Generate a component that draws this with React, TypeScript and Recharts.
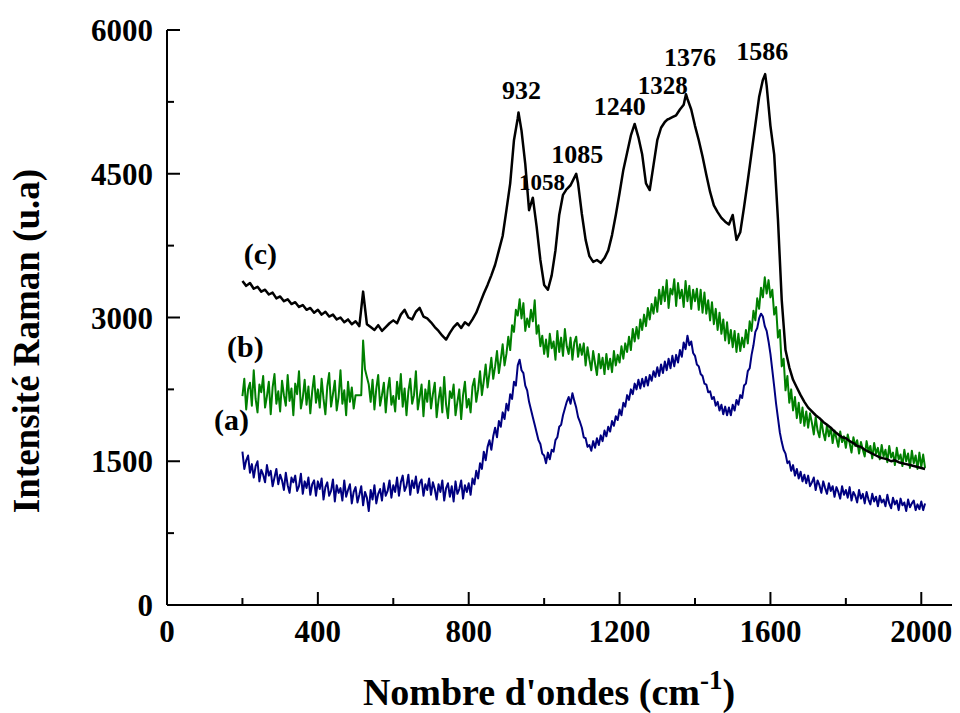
import React from 'react';
import { LineChart, Line, XAxis, YAxis, ReferenceDot, Label } from 'recharts';

// All spectra start at 200 cm-1; (a) and (b) are sampled every 5 cm-1, (c) every 10 cm-1
const GRID_START = 200;
const STEP_FINE = 5;
const STEP_COARSE = 10;

// (a) blue spectrum, 5 cm-1 steps
const SERIES_A = [
  1600, 1420, 1510, 1560, 1380, 1470, 1330, 1450, 1500, 1290, 1410, 1360, 1280, 1460, 1350, 1400, 1240, 1330, 1420, 1260,
  1360, 1300, 1200, 1380, 1250, 1170, 1330, 1280, 1350, 1190, 1240, 1370, 1160, 1290, 1220, 1330, 1150, 1260, 1300, 1140,
  1290, 1210, 1320, 1100, 1230, 1280, 1140, 1190, 1310, 1080, 1250, 1170, 1220, 1090, 1300, 1130, 1200, 1260, 1060, 1180,
  1230, 1070, 1150, 1240, 1040, 1180, 1120, 980, 1200, 1100, 1250, 1060, 1160, 1210, 1090, 1270, 1140, 1190, 1300, 1120,
  1250, 1180, 1330, 1140, 1280, 1350, 1190, 1240, 1360, 1150, 1300, 1220, 1340, 1170, 1270, 1310, 1140, 1260, 1200, 1320,
  1150, 1280, 1210, 1100, 1260, 1180, 1300, 1090, 1220, 1270, 1130, 1240, 1080, 1290, 1160, 1210, 1300, 1110, 1250, 1180,
  1270, 1150, 1320, 1260, 1400, 1320, 1480, 1420, 1600, 1510, 1650, 1720, 1620, 1760, 1850, 1750, 1920, 1860, 2010, 1940,
  2100, 2030, 2200, 2150, 2330, 2290, 2500, 2560, 2450, 2420, 2290, 2240, 2120, 2040, 1960, 1880, 1800, 1720, 1680, 1580,
  1560, 1480, 1590, 1520, 1620, 1600, 1720, 1750, 1860, 1880, 1980, 2050, 2120, 2170, 2100, 2210, 2130, 2060, 1960, 1910,
  1850, 1750, 1740, 1650, 1670, 1610, 1710, 1640, 1740, 1670, 1770, 1710, 1820, 1760, 1860, 1810, 1920, 1870, 1970, 1930,
  2040, 1980, 2110, 2070, 2190, 2140, 2250, 2200, 2310, 2250, 2350, 2260, 2360, 2280, 2380, 2290, 2400, 2340, 2440, 2380,
  2480, 2390, 2510, 2420, 2540, 2450, 2570, 2470, 2600, 2490, 2610, 2530, 2660, 2590, 2740, 2670, 2810, 2710, 2750, 2630,
  2600, 2510, 2490, 2410, 2390, 2310, 2300, 2220, 2230, 2150, 2170, 2080, 2120, 2030, 2090, 1990, 2070, 1980, 2060, 1980,
  2090, 2030, 2140, 2090, 2190, 2160, 2290, 2310, 2440, 2470, 2610, 2710, 2850, 2890, 2990, 3040, 3010, 2910, 2860, 2750,
  2620, 2450, 2280, 2100, 1950, 1800, 1700, 1620, 1580, 1480, 1500, 1400, 1460, 1350, 1420, 1320, 1390, 1290, 1360, 1270,
  1350, 1240, 1280, 1330, 1200, 1300, 1250, 1170, 1290, 1220, 1160, 1270, 1190, 1240, 1130, 1230, 1180, 1110, 1240, 1150,
  1200, 1120, 1230, 1090, 1180, 1140, 1070, 1200, 1110, 1160, 1060, 1180, 1100, 1050, 1160, 1080, 1130, 1030, 1140, 1070,
  1100, 1030, 1150, 1060, 1010, 1120, 1050, 1090, 990, 1110, 1040, 1070, 980, 1100, 1020, 1060, 1090, 990, 1050, 1000,
  1080, 990, 1060,
];

// (b) green spectrum, 5 cm-1 steps
const SERIES_B = [
  2180, 2360, 2040, 2250, 2320, 2080, 2450, 2150, 2010, 2300, 2220, 2390, 2060, 2180, 2330, 1990, 2270, 2410, 2100, 2230,
  2020, 2340, 2190, 2080, 2400, 2130, 2260, 1980, 2310, 2200, 2440, 2050, 2160, 2350, 2090, 2280, 2000, 2230, 2390, 2110,
  2250, 2060, 2360, 2150, 1990, 2280, 2420, 2070, 2200, 2340, 2030, 2170, 2450, 2100, 2240, 1980, 2330, 2120, 2270, 2050,
  2190, 2190, 2190, 2190, 2760, 2460, 2380, 2300, 2120, 2350, 2040, 2260, 2400, 2080, 2190, 2320, 2010, 2240, 2370, 2090,
  2180, 2020, 2330, 2150, 2410, 2070, 2260, 1980, 2230, 2360, 2100, 2190, 2440, 2040, 2170, 2300, 1970, 2250, 2120, 2340,
  2050, 2200, 2320, 1960, 2140, 2270, 2010, 2380, 2090, 1950, 2230, 2160, 2300, 1980, 2120, 2250, 1940, 2190, 2330, 2060,
  2150, 2010, 2280, 2360, 2120, 2250, 2440, 2190, 2340, 2510, 2270, 2420, 2580, 2360, 2490, 2650, 2420, 2560, 2720, 2500,
  2620, 2800, 2660, 2920, 2850, 3080, 3020, 3190, 2990, 3150, 2860, 2990, 2900, 3080, 2960, 3180, 2830, 2920, 2700, 2810,
  2620, 2770, 2590, 2830, 2680, 2750, 2560, 2860, 2640, 2790, 2600, 2880, 2700, 2620, 2790, 2560, 2740, 2800, 2590, 2720,
  2610, 2730, 2500, 2690, 2560, 2450, 2650, 2520, 2400, 2620, 2470, 2580, 2410, 2620, 2460, 2570, 2430, 2650, 2500, 2610,
  2530, 2700, 2570, 2730, 2640, 2800, 2660, 2880, 2750, 2900, 2780, 2980, 2870, 3030, 2910, 3100, 2980, 3140, 3040, 3210,
  3060, 3290, 3140, 3320, 3170, 3390, 3100, 3300, 3240, 3400, 3120, 3360, 3200, 3290, 3110, 3380, 3170, 3330, 3090, 3290,
  3170, 3300, 3080, 3290, 3050, 3260, 3040, 3180, 2970, 3160, 2930, 3090, 2870, 3050, 2830, 2980, 2760, 2950, 2730, 2870,
  2690, 2860, 2640, 2830, 2650, 2790, 2690, 2870, 2730, 2960, 2860, 3070, 2970, 3200, 3090, 3310, 3210, 3420, 3250, 3390,
  3210, 3290, 3030, 3110, 2790, 2870, 2490, 2570, 2240, 2390, 2110, 2250, 2030, 2170, 1950, 2110, 1900, 2060, 1870, 2020,
  1850, 2000, 1900, 1780, 1960, 1820, 1750, 1930, 1800, 1720, 1880, 1760, 1850, 1690, 1820, 1740, 1650, 1810, 1700, 1760,
  1640, 1780, 1690, 1590, 1750, 1660, 1720, 1580, 1700, 1620, 1550, 1710, 1600, 1660, 1530, 1690, 1580, 1640, 1520, 1670,
  1550, 1620, 1490, 1660, 1540, 1590, 1460, 1640, 1520, 1570, 1450, 1620, 1500, 1580, 1430, 1610, 1480, 1560, 1420, 1590,
  1440, 1570, 1430,
];

// (c) black spectrum, 10 cm-1 steps
const SERIES_C = [
  3380, 3330, 3360, 3300, 3320, 3270, 3290, 3240, 3260, 3200,
  3220, 3170, 3190, 3140, 3160, 3110, 3130, 3080, 3100, 3050,
  3080, 3030, 3060, 3010, 3030, 2980, 3000, 2950, 2980, 2930,
  2960, 2910, 3270, 2930, 2900, 2870, 2920, 2860, 2900, 2940,
  2970, 2940, 3030, 3080, 3000, 2980, 3060, 3100, 3010, 2990,
  2950, 2900, 2860, 2810, 2770, 2840, 2900, 2940, 2890, 2950,
  2920, 2980, 3050, 3150, 3250, 3340, 3440, 3550, 3700, 3850,
  4120, 4400, 4850, 5080, 4950, 4600, 4120, 4250, 3950, 3600,
  3340, 3290, 3440, 3700, 4070, 4280, 4340, 4380, 4460, 4400,
  4080, 3810, 3640, 3580, 3600, 3570, 3620, 3700, 3860, 4070,
  4300, 4540, 4720, 4900, 4980, 4880, 4700, 4400, 4330, 4590,
  4850, 4980, 5040, 5070, 5090, 5110, 5170, 5220, 5280, 5170,
  5000, 4850, 4680, 4490, 4310, 4170, 4100, 4040, 4000, 3970,
  4070, 3810, 3890, 4150, 4430, 4720, 5010, 5300, 5480, 5420,
  5000, 4700, 4020, 3180, 2660, 2480, 2350, 2270, 2190, 2120,
  2060, 2020, 1980, 1950, 1910, 1880, 1850, 1810, 1780, 1750,
  1740, 1710, 1690, 1660, 1650, 1620, 1600, 1580, 1560, 1540,
  1530, 1520, 1500, 1510, 1490, 1480, 1470, 1460, 1450, 1440,
  1430, 1420,
];

// Raman bands marked on spectrum (c)
const BAND_WAVENUMBERS = [932, 1058, 1085, 1240, 1328, 1376, 1586];
const BAND_INTENSITIES = [5140, 4330, 4500, 5020, 5070, 5330, 5540];

const SERIES_TAGS = ['(a)', '(b)', '(c)'];
const SERIES_COLORS = ['#000080', '#008000', '#000000'];
const SERIES_WIDTHS = [2, 2, 2.5];

const X_TICKS = [0, 200, 400, 600, 800, 1000, 1200, 1400, 1600, 1800, 2000];
const X_LABELED = [0, 400, 800, 1200, 1600, 2000];
const Y_TICKS = [0, 750, 1500, 2250, 3000, 3750, 4500, 5250, 6000];
const Y_LABELED = [0, 1500, 3000, 4500, 6000];

const FONT = '"Liberation Serif", "Times New Roman", serif';

type Pt = { wn: number; v: number };

const toPoints = (values: number[], step: number): Pt[] =>
  values.map((v, i) => ({ wn: GRID_START + i * step, v }));

const pointsA = toPoints(SERIES_A, STEP_FINE);
const pointsB = toPoints(SERIES_B, STEP_FINE);
const pointsC = [
  ...toPoints(SERIES_C, STEP_COARSE).filter((p) => !BAND_WAVENUMBERS.includes(p.wn)),
  ...BAND_WAVENUMBERS.map((wn, i) => ({ wn, v: BAND_INTENSITIES[i] })),
].sort((a, b) => a.wn - b.wn);

const SERIES_POINTS = [pointsA, pointsB, pointsC];

// pixel offsets of each band label from its band maximum: [dx, dy, fontSize]
const BAND_LABEL_LAYOUT: Record<number, [number, number, number]> = {
  932: [3, -13, 26],
  1058: [-24, 0, 23],
  1085: [1, -11, 26],
  1240: [-15, -9, 26],
  1328: [-5, -25, 25],
  1376: [4, -28, 26],
  1586: [-3, -14, 26],
};

// pixel offsets of each series tag from the first point of its spectrum
const TAG_LAYOUT: [number, number][] = [
  [-11, -22],
  [3, -39],
  [18, -17],
];

const MAJOR = 13;
const MINOR = 7;

const XTick = (props: any) => {
  const { x, y, payload } = props;
  const labeled = X_LABELED.includes(payload.value);
  return (
    <g>
      <line x1={x} x2={x} y1={y} y2={y - (labeled ? MAJOR : MINOR)} stroke="#000" strokeWidth={2} />
      {labeled && (
        <text x={x} y={y + 37} textAnchor="middle" fontFamily={FONT} fontWeight="bold" fontSize={31} fill="#000">
          {payload.value}
        </text>
      )}
    </g>
  );
};

const YTick = (props: any) => {
  const { x, y, payload } = props;
  const labeled = Y_LABELED.includes(payload.value);
  return (
    <g>
      <line x1={x} x2={x + (labeled ? MAJOR : MINOR)} y1={y} y2={y} stroke="#000" strokeWidth={2} />
      {labeled && (
        <text x={x - 14} y={y + 11} textAnchor="end" fontFamily={FONT} fontWeight="bold" fontSize={31} fill="#000">
          {payload.value}
        </text>
      )}
    </g>
  );
};

export default function App() {
  return (
    <LineChart width={952} height={705} margin={{ top: 22, right: 1, bottom: 0, left: 0 }}>
      <XAxis
        dataKey="wn"
        type="number"
        domain={[0, 2100]}
        ticks={X_TICKS}
        interval={0}
        tickSize={0}
        tickMargin={0}
        tickLine={false}
        tick={<XTick />}
        axisLine={{ stroke: '#000', strokeWidth: 2 }}
        height={108}
        allowDataOverflow
      >
        <Label
          content={(p: any) => {
            const vb = p.viewBox;
            return (
              <text
                x={vb.x + 382}
                y={vb.y + 100}
                textAnchor="middle"
                fontFamily={FONT}
                fontWeight="bold"
                fontSize={38}
                fill="#000"
              >
                <tspan>Nombre d'ondes (cm</tspan>
                <tspan dy={-16} fontSize={27}>-1</tspan>
                <tspan dy={16}>)</tspan>
              </text>
            );
          }}
        />
      </XAxis>
      <XAxis
        xAxisId="top"
        orientation="top"
        type="number"
        domain={[0, 2100]}
        tick={false}
        tickLine={false}
        height={0}
        axisLine={{ stroke: '#000', strokeWidth: 2 }}
      />
      <YAxis
        type="number"
        domain={[0, 6000]}
        ticks={Y_TICKS}
        interval={0}
        tickSize={0}
        tickMargin={0}
        tickLine={false}
        tick={<YTick />}
        axisLine={{ stroke: '#000', strokeWidth: 2 }}
        width={159}
        allowDataOverflow
      >
        <Label
          content={(p: any) => {
            const vb = p.viewBox;
            const cx = vb.x + 31;
            const cy = vb.y + 311;
            return (
              <g transform={`translate(${cx} ${cy}) rotate(-90)`}>
                <text
                  x={0}
                  y={0}
                  textAnchor="middle"
                  fontFamily={FONT}
                  fontWeight="bold"
                  fontSize={37}
                  fill="#000"
                >
                  Intensité Raman (u.a)
                </text>
              </g>
            );
          }}
        />
      </YAxis>
      <YAxis
        yAxisId="right"
        orientation="right"
        type="number"
        domain={[0, 6000]}
        tick={false}
        tickLine={false}
        width={0}
        axisLine={{ stroke: '#000', strokeWidth: 2 }}
      />

      {[1, 0, 2].map((i) => (
        <Line
          key={SERIES_TAGS[i]}
          data={SERIES_POINTS[i]}
          dataKey="v"
          type="linear"
          stroke={SERIES_COLORS[i]}
          strokeWidth={SERIES_WIDTHS[i]}
          strokeLinejoin="round"
          dot={false}
          activeDot={false}
          isAnimationActive={false}
        />
      ))}

      {SERIES_POINTS.map((pts, i) => (
        <ReferenceDot
          key={`tag-${i}`}
          x={pts[0].wn}
          y={pts[0].v}
          r={0}
          shape={(p: any) => (
            <text
              x={p.cx + TAG_LAYOUT[i][0]}
              y={p.cy + TAG_LAYOUT[i][1]}
              textAnchor="middle"
              fontFamily={FONT}
              fontWeight="bold"
              fontSize={30}
              fill="#000"
            >
              {SERIES_TAGS[i]}
            </text>
          )}
        />
      ))}

      {BAND_WAVENUMBERS.map((wn, i) => {
        const [dx, dy, fs] = BAND_LABEL_LAYOUT[wn];
        return (
          <ReferenceDot
            key={`band-${wn}`}
            x={wn}
            y={BAND_INTENSITIES[i]}
            r={0}
            shape={(p: any) => (
              <text
                x={p.cx + dx}
                y={p.cy + dy}
                textAnchor="middle"
                fontFamily={FONT}
                fontWeight="bold"
                fontSize={fs}
                fill="#000"
              >
                {wn}
              </text>
            )}
          />
        );
      })}
    </LineChart>
  );
}
